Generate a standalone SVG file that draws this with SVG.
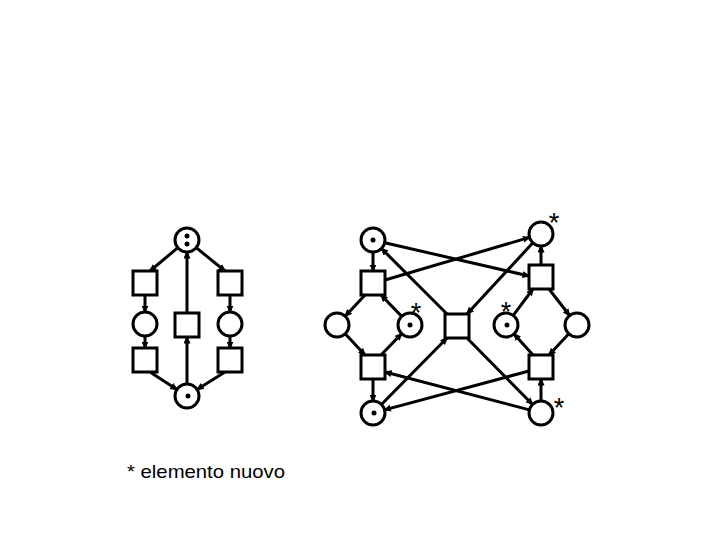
<svg xmlns="http://www.w3.org/2000/svg" width="720" height="540" viewBox="0 0 720 540">
<style>
.p{fill:#fff;stroke:#000;stroke-width:3}
.t{fill:#fff;stroke:#000;stroke-width:3}
.d{fill:#000}
.e{stroke:#000;stroke-width:3;fill:none;marker-end:url(#ah)}
.s{font-family:"Liberation Sans",Arial,sans-serif;font-size:27px;fill:#000;text-anchor:middle}
.lbl{font-family:"Liberation Sans",Arial,sans-serif;font-size:19px;fill:#000}
</style>
<defs>
<marker id="ah" markerUnits="userSpaceOnUse" markerWidth="10" markerHeight="8" refX="6.5" refY="3.5" orient="auto">
<path d="M0,0 L8,3.5 L0,7 z" fill="#000"/>
</marker>
</defs>
<rect width="720" height="540" fill="#fff"/>
<g id="connectors">
<line class="e" x1="177.8" y1="247.7" x2="150" y2="271"/>
<line class="e" x1="196.2" y1="247.7" x2="225" y2="271"/>
<line class="e" x1="145" y1="295" x2="145" y2="312"/>
<line class="e" x1="145" y1="336" x2="145" y2="348"/>
<line class="e" x1="230" y1="295" x2="230" y2="312"/>
<line class="e" x1="230" y1="336" x2="230" y2="348"/>
<line class="e" x1="150" y1="372" x2="176.9" y2="389.5"/>
<line class="e" x1="225" y1="372" x2="197.1" y2="389.5"/>
<line class="e" x1="187" y1="384" x2="187" y2="337"/>
<line class="e" x1="187" y1="313" x2="187" y2="252"/>
<line class="e" x1="373" y1="252" x2="373" y2="271"/>
<line class="e" x1="365" y1="295" x2="345.2" y2="316.2"/>
<line class="e" x1="401.7" y1="316.4" x2="381" y2="295"/>
<line class="e" x1="345.2" y1="333.8" x2="365" y2="355"/>
<line class="e" x1="381" y1="355" x2="401.7" y2="333.6"/>
<line class="e" x1="373" y1="379" x2="373" y2="401"/>
<line class="e" x1="384.7" y1="242.7" x2="529" y2="276"/>
<line class="e" x1="385" y1="280" x2="529.5" y2="237.4"/>
<line class="e" x1="447" y1="314" x2="381.5" y2="248.5"/>
<line class="e" x1="532.9" y1="242.8" x2="467" y2="314"/>
<line class="e" x1="381.4" y1="404.5" x2="447" y2="338"/>
<line class="e" x1="467" y1="338" x2="532.6" y2="404.5"/>
<line class="e" x1="529" y1="371" x2="384.6" y2="409.9"/>
<line class="e" x1="529.4" y1="409.9" x2="385" y2="372"/>
<line class="e" x1="541" y1="265" x2="541" y2="246"/>
<line class="e" x1="549" y1="289" x2="569.6" y2="315.5"/>
<line class="e" x1="513.2" y1="315.4" x2="533" y2="289"/>
<line class="e" x1="533" y1="355" x2="514" y2="333.9"/>
<line class="e" x1="568.8" y1="333.8" x2="549" y2="355"/>
<line class="e" x1="541" y1="401" x2="541" y2="379"/>
</g>
<g id="PA"><circle class="p" cx="187" cy="240" r="12"/><circle class="d" cx="187" cy="236" r="2.5"/><circle class="d" cx="187" cy="244" r="2.5"/></g>
<g id="TA1"><rect class="t" x="133" y="271" width="24" height="24"/></g>
<g id="TA2"><rect class="t" x="218" y="271" width="24" height="24"/></g>
<g id="PA1"><circle class="p" cx="145" cy="324" r="12"/></g>
<g id="TAm"><rect class="t" x="175" y="313" width="24" height="24"/></g>
<g id="PA2"><circle class="p" cx="230" cy="324" r="12"/></g>
<g id="TA3"><rect class="t" x="133" y="348" width="24" height="24"/></g>
<g id="TA4"><rect class="t" x="218" y="348" width="24" height="24"/></g>
<g id="PA3"><circle class="p" cx="187" cy="396" r="12"/><circle class="d" cx="188" cy="396" r="2.5"/></g>
<g id="P1"><circle class="p" cx="373" cy="240" r="12"/><circle class="d" cx="373" cy="240" r="2.5"/></g>
<g id="T1"><rect class="t" x="361" y="271" width="24" height="24"/></g>
<g id="PL"><circle class="p" cx="337" cy="325" r="12"/></g>
<g id="PS1"><circle class="p" cx="410" cy="325" r="12"/><circle class="d" cx="410" cy="325" r="2.5"/><text class="s" x="416" y="322">*</text></g>
<g id="TM"><rect class="t" x="445" y="314" width="24" height="24"/></g>
<g id="T3"><rect class="t" x="361" y="355" width="24" height="24"/></g>
<g id="P2"><circle class="p" cx="373" cy="413" r="12"/><circle class="d" cx="374" cy="413" r="2.5"/></g>
<g id="P3"><circle class="p" cx="541" cy="234" r="12"/><text class="s" x="554" y="232">*</text></g>
<g id="T2"><rect class="t" x="529" y="265" width="24" height="24"/></g>
<g id="PS2"><circle class="p" cx="506" cy="325" r="12"/><circle class="d" cx="507" cy="325" r="2.5"/><text class="s" x="506" y="321">*</text></g>
<g id="PR"><circle class="p" cx="577" cy="325" r="12"/></g>
<g id="T4"><rect class="t" x="529" y="355" width="24" height="24"/></g>
<g id="P4"><circle class="p" cx="541" cy="413" r="12"/><text class="s" x="559" y="417">*</text></g>
<text class="lbl" x="127" y="478" textLength="158" lengthAdjust="spacingAndGlyphs">* elemento nuovo</text>
</svg>
